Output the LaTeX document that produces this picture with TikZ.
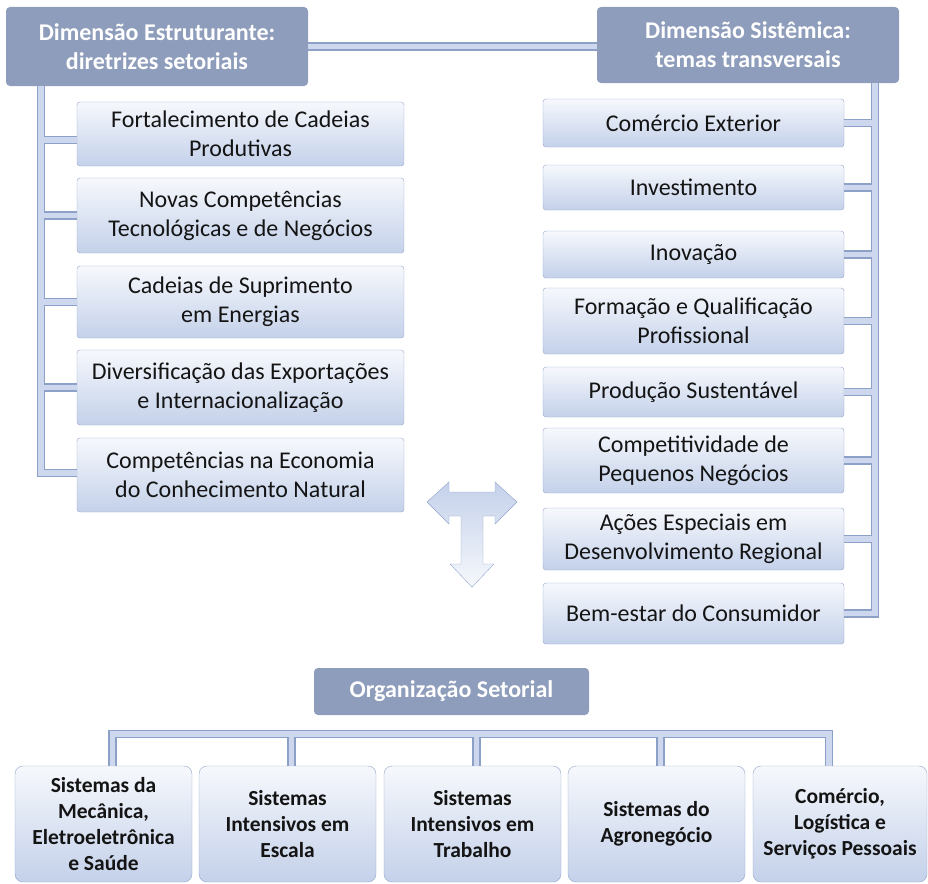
\documentclass[tikz,border=0pt]{standalone}
\usepackage{fontspec}
\setmainfont{Carlito}
\usepackage{xcolor}
\usepackage{tikz}
\usetikzlibrary{positioning, calc}

\definecolor{hdfill}{RGB}{142,157,187}
\definecolor{bxedge}{RGB}{146,164,200}
\definecolor{bxtop}{RGB}{246,248,252}
\definecolor{bxbot}{RGB}{196,209,234}
\definecolor{tbedge}{RGB}{141,160,200}
\definecolor{tbfill}{RGB}{205,216,238}
\definecolor{txt}{RGB}{20,20,20}

\begin{document}
\begin{tikzpicture}[x=1pt, y=-1pt,
          sz/.style 2 args={minimum width=#1, minimum height=#2},
          hd/.style={fill=hdfill, rounded corners=4pt, text=white, align=center, inner sep=0pt, font=\fontsize{24}{29}\selectfont\bfseries},
          bx/.style={draw=bxedge, top color=bxtop, bottom color=bxbot, rounded corners=3pt, text=txt, align=center, inner sep=0pt, font=\fontsize{24}{29}\selectfont},
          sb/.style={bx, rounded corners=8pt, font=\fontsize{21.5}{26}\selectfont\bfseries},
          tube/.style={draw=tbfill, line width=5.5pt, preaction={draw=tbedge, line width=8.5pt}},
          tarr/.style={draw=bxedge, top color=bxbot, bottom color=bxtop},
        ]
        \useasboundingbox (0,0) rectangle (928,883);
        % headers
        \node[hd, sz={302pt}{79pt}] (hdL) at (157,46.5) {Dimensão Estruturante:\\diretrizes setoriais};
        \node[hd, sz={302pt}{76pt}] (hdR) at (748,45) {Dimensão Sistêmica:\\temas transversais};
        % left column
        \node[bx, sz={327pt}{64pt}] (L1) at (240.5,134) {Fortalecimento de Cadeias\\Produtivas};
        \node[bx, sz={327pt}{75pt}] (L2) at (240.5,215.5) {Novas Competências\\Tecnológicas e de Negócios};
        \node[bx, sz={327pt}{72pt}] (L3) at (240.5,302) {Cadeias de Suprimento\\em Energias};
        \node[bx, sz={327pt}{75pt}] (L4) at (240.5,387.5) {Diversificação das Exportações\\e Internacionalização};
        \node[bx, sz={327pt}{74pt}] (L5) at (240.5,475) {Competências na Economia\\do Conhecimento Natural};
        % right column
        \node[bx, sz={301pt}{48pt}] (R1) at (693.5,123) {Comércio Exterior};
        \node[bx, sz={301pt}{45pt}] (R2) at (693.5,187.5) {Investimento};
        \node[bx, sz={301pt}{47pt}] (R3) at (693.5,254.5) {Inovação};
        \node[bx, sz={301pt}{66pt}] (R4) at (693.5,321) {Formação e Qualificação\\Profissional};
        \node[bx, sz={301pt}{50pt}] (R5) at (693.5,392) {Produção Sustentável};
        \node[bx, sz={301pt}{65pt}] (R6) at (693.5,460.5) {Competitividade de\\Pequenos Negócios};
        \node[bx, sz={301pt}{62pt}] (R7) at (693.5,539) {Ações Especiais em\\Desenvolvimento Regional};
        \node[bx, sz={301pt}{61pt}] (R8) at (693.5,613.5) {Bem-estar do Consumidor};
        % sector organisation
        \node[hd, sz={275pt}{47pt}] (org) at (451.5,691.5) {Organização Setorial};
        \node[sb, sz={177pt}{116pt}] (B1) at (103.5,824) {Sistemas da\\Mecânica,\\Eletroeletrônica\\e Saúde};
        \node[sb, sz={177pt}{116pt}] (B2) at (287.5,824) {Sistemas\\Intensivos em\\Escala};
        \node[sb, sz={177pt}{116pt}] (B3) at (472.5,824) {Sistemas\\Intensivos em\\Trabalho};
        \node[sb, sz={177pt}{116pt}] (B4) at (656.5,824) {Sistemas do\\Agronegócio};
        \node[sb, sz={174pt}{116pt}] (B5) at (840,824) {Comércio,\\Logística e\\Serviços Pessoais};
        % connectors
        \coordinate (spL) at ([xshift=35pt]hdL.south west);
        \coordinate (spR) at ([xshift=-24pt]hdR.south east);
        \draw[tube] (hdL.east) -- (hdL.east -| hdR.west);
        \draw[tube] (spL) |- ([yshift=2pt]L5.west)
          ([yshift=-6pt]L1.west) -- ([yshift=-6pt]L1.west -| spL)
          (L2.west) -- (L2.west -| spL)
          (L3.west) -- (L3.west -| spL)
          (L4.west) -- (L4.west -| spL);
        \draw[tube] (spR) |- (R8.east)
          (R1.east) -- (R1.east -| spR)
          (R2.east) -- (R2.east -| spR)
          (R3.east) -- (R3.east -| spR)
          (R4.east) -- (R4.east -| spR)
          (R5.east) -- (R5.east -| spR)
          (R6.east) -- (R6.east -| spR)
          (R7.east) -- (R7.east -| spR);
        \draw[tube] ([xshift=9pt]B1.north) -- ++(0,-32) -| ([xshift=-11pt]B5.north)
          ([xshift=4pt]B2.north) -- ++(0,-32)
          ([xshift=4pt]B3.north) -- ++(0,-32)
          ([xshift=4pt]B4.north) -- ++(0,-32);
        % T-shaped arrow
        \draw[tarr] (427,502) -- (449,482) -- (449,492) -- (495,492) -- (495,482) -- (517,502)
          -- (495,524) -- (495,516) -- (483,516) -- (483,564) -- (494,564) -- (472,587)
          -- (450,564) -- (461,564) -- (461,516) -- (449,516) -- (449,524) -- cycle;
\end{tikzpicture}
\end{document}
